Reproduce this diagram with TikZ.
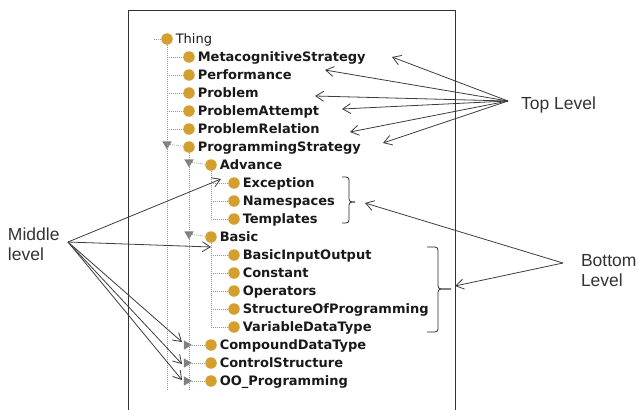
\documentclass[tikz,border=0pt]{standalone}
\usepackage{fontspec}
\setmainfont{Liberation Sans}
\newfontfamily\owlfont{DejaVu Sans}
\usetikzlibrary{arrows.meta}
\usetikzlibrary{positioning}
\usetikzlibrary{shapes.geometric}
\definecolor{owlgold}{RGB}{211,160,48}
\definecolor{treegray}{RGB}{150,150,150}
\definecolor{trigray}{RGB}{128,128,128}
\definecolor{arrowgray}{RGB}{60,60,60}

\begin{document}
\begin{tikzpicture}
	[x=1pt,y=-1pt,
	every node/.style={inner sep=0pt,outer sep=0pt},
	cls/.style={circle,fill=owlgold,minimum size=11.5pt},
	clslbl/.style={right=3pt of #1,text height=9.5pt,text depth=0pt,text=black!90,font=\owlfont\bfseries\fontsize{13}{15}\selectfont},
	rootlbl/.style={right=3pt of #1,text height=9.5pt,text depth=0pt,text=black!90,font=\owlfont\fontsize{13}{15}\selectfont},
	tridown/.style={regular polygon,regular polygon sides=3,shape border rotate=180,fill=trigray,minimum size=11pt},
	triright/.style={regular polygon,regular polygon sides=3,shape border rotate=-90,fill=trigray,minimum size=11pt},
	treeline/.style={treegray,line width=0.6pt,dash pattern=on 1pt off 1pt},
	lvllbl/.style={anchor=north west,align=left,text=black!80,font=\fontsize{17.5}{20}\selectfont},
	bracket/.style={black!85,line width=0.8pt,rounded corners=3pt},
	arr/.style={arrowgray,line width=0.8pt,-{Straight Barb[length=8pt,width=10pt]}}]
	\useasboundingbox (0,0) rectangle (638,410);

	% frame of the class view
	\draw[black!80,line width=0.8pt] (128,410) -- (128,10) -- (455,10) -- (455,410);

	% class tree
	\node[cls] (c-thing) at (167,39) {};
	\node[rootlbl=c-thing] (t-thing) {Thing};
	\node[cls] (c-meta) at (189,57) {};
	\node[clslbl=c-meta] (t-meta) {MetacognitiveStrategy};
	\node[cls] (c-perf) at (189,75) {};
	\node[clslbl=c-perf] (t-perf) {Performance};
	\node[cls] (c-prob) at (189,93) {};
	\node[clslbl=c-prob] (t-prob) {Problem};
	\node[cls] (c-patt) at (189,111) {};
	\node[clslbl=c-patt] (t-patt) {ProblemAttempt};
	\node[cls] (c-prel) at (189,129) {};
	\node[clslbl=c-prel] (t-prel) {ProblemRelation};
	\node[tridown] (x-pstrat) at (167,144) {};
	\node[cls] (c-pstrat) at (189,147) {};
	\node[clslbl=c-pstrat] (t-pstrat) {ProgrammingStrategy};
	\node[tridown] (x-adv) at (189,162) {};
	\node[cls] (c-adv) at (211,165) {};
	\node[clslbl=c-adv] (t-adv) {Advance};
	\node[cls] (c-exc) at (234,183) {};
	\node[clslbl=c-exc] (t-exc) {Exception};
	\node[cls] (c-names) at (234,201) {};
	\node[clslbl=c-names] (t-names) {Namespaces};
	\node[cls] (c-templ) at (234,219) {};
	\node[clslbl=c-templ] (t-templ) {Templates};
	\node[tridown] (x-basic) at (189,234) {};
	\node[cls] (c-basic) at (211,237) {};
	\node[clslbl=c-basic] (t-basic) {Basic};
	\node[cls] (c-bio) at (234,255) {};
	\node[clslbl=c-bio] (t-bio) {BasicInputOutput};
	\node[cls] (c-const) at (234,273) {};
	\node[clslbl=c-const] (t-const) {Constant};
	\node[cls] (c-oper) at (234,291) {};
	\node[clslbl=c-oper] (t-oper) {Operators};
	\node[cls] (c-struct) at (234,309) {};
	\node[clslbl=c-struct] (t-struct) {StructureOfProgramming};
	\node[cls] (c-vdt) at (234,327) {};
	\node[clslbl=c-vdt] (t-vdt) {VariableDataType};
	\node[triright] (x-cdt) at (186.5,345) {};
	\node[cls] (c-cdt) at (211,345) {};
	\node[clslbl=c-cdt] (t-cdt) {CompoundDataType};
	\node[triright] (x-ctrl) at (186.5,363) {};
	\node[cls] (c-ctrl) at (211,363) {};
	\node[clslbl=c-ctrl] (t-ctrl) {ControlStructure};
	\node[triright] (x-oop) at (186.5,381) {};
	\node[cls] (c-oop) at (211,381) {};
	\node[clslbl=c-oop] (t-oop) {OO\_Programming};

	% dotted tree lines
	\coordinate (root-stub) at (154,39);
	\coordinate (tree-end) at (0,390);
	\draw[treeline] (root-stub) -- (c-thing);
	\draw[treeline] (c-thing) -- (c-thing |- tree-end);
	\draw[treeline] (c-thing |- c-meta) -- (c-meta);
	\draw[treeline] (c-thing |- c-perf) -- (c-perf);
	\draw[treeline] (c-thing |- c-prob) -- (c-prob);
	\draw[treeline] (c-thing |- c-patt) -- (c-patt);
	\draw[treeline] (c-thing |- c-prel) -- (c-prel);
	\draw[treeline] (x-pstrat) -- (c-pstrat);
	\draw[treeline] (c-pstrat) -- (c-pstrat |- tree-end);
	\draw[treeline] (x-adv) -- (c-adv);
	\draw[treeline] (c-adv) |- (c-templ);
	\draw[treeline] (c-adv |- c-exc) -- (c-exc);
	\draw[treeline] (c-adv |- c-names) -- (c-names);
	\draw[treeline] (x-basic) -- (c-basic);
	\draw[treeline] (c-basic) |- (c-vdt);
	\draw[treeline] (c-basic |- c-bio) -- (c-bio);
	\draw[treeline] (c-basic |- c-const) -- (c-const);
	\draw[treeline] (c-basic |- c-oper) -- (c-oper);
	\draw[treeline] (c-basic |- c-struct) -- (c-struct);
	\draw[treeline] (x-cdt) -- (c-cdt);
	\draw[treeline] (x-ctrl) -- (c-ctrl);
	\draw[treeline] (x-oop) -- (c-oop);

	% braces round the leaves
	\draw[bracket] (342,177) -- (349,177) -- (349,202) -- (355,202);
	\draw[bracket] (342,223) -- (349,223) -- (349,202) -- (355,202);
	\draw[bracket] (427,247) -- (438,247) -- (438,289) -- (451,289);
	\draw[bracket] (427,332) -- (438,332) -- (438,289) -- (451,289);

	% level labels
	\node[lvllbl] (top) at (521,97) {Top Level};
	\node[lvllbl] (mid) at (8,228) {Middle\\level};
	\node[lvllbl] (bot) at (581,254) {Bottom\\Level};
	\coordinate (top-src) at (508,101);
	\coordinate (mid-src) at (68,242);
	\coordinate (bot-src) at (563,263);

	% arrow ends
	\coordinate (to-meta) at (392,57);
	\coordinate (to-perf) at (325,70);
	\coordinate (to-prob) at (315,96);
	\coordinate (to-patt) at (342,109);
	\coordinate (to-prel) at (350,132);
	\coordinate (to-pstrat) at (383,143);
	\coordinate (to-adv) at (221,179);
	\coordinate (to-basic) at (211,247);
	\coordinate (to-cdt) at (182,342);
	\coordinate (to-ctrl) at (182,364);
	\coordinate (to-oop) at (182,380);
	\coordinate (to-small) at (365,203);
	\coordinate (to-big) at (455,286);

	\draw[arr] (top-src) -- (to-meta);
	\draw[arr] (top-src) -- (to-perf);
	\draw[arr] (top-src) -- (to-prob);
	\draw[arr] (top-src) -- (to-patt);
	\draw[arr] (top-src) -- (to-prel);
	\draw[arr] (top-src) -- (to-pstrat);
	\draw[arr] (mid-src) -- (to-adv);
	\draw[arr] (mid-src) -- (to-basic);
	\draw[arr] (mid-src) -- (to-cdt);
	\draw[arr] (mid-src) -- (to-ctrl);
	\draw[arr] (mid-src) -- (to-oop);
	\draw[arr] (bot-src) -- (to-small);
	\draw[arr] (bot-src) -- (to-big);
\end{tikzpicture}
\end{document}
